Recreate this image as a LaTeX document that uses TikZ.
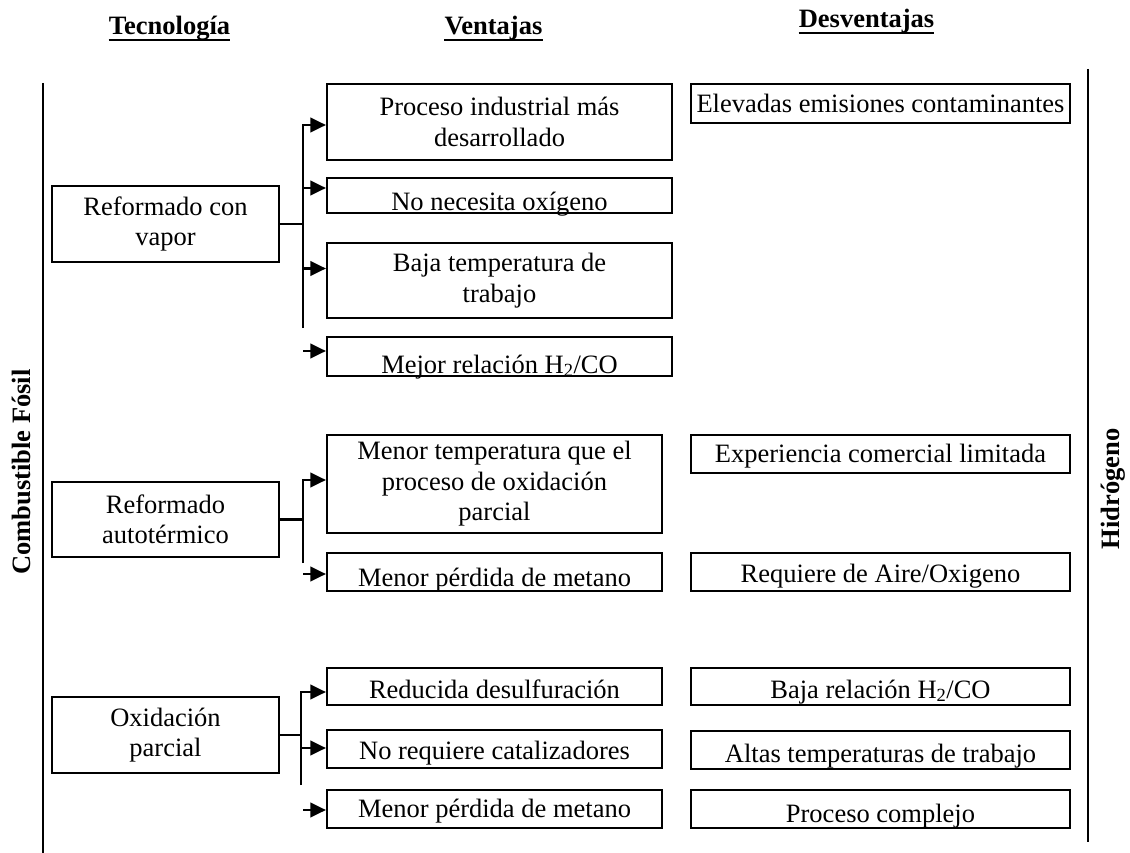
\documentclass[tikz,border=0pt]{standalone}
\usepackage{fontspec}
\setmainfont{Liberation Serif}
\usetikzlibrary{arrows.meta}

% shift a single line of text down inside its box
\newcommand{\lowered}[2]{\raisebox{-#1pt}{#2}}

\begin{document}
\begin{tikzpicture}[x=1pt,y=-1pt,
  txt/.style={font=\fontsize{26.5}{30.5}\selectfont},
  box/.style={txt, draw, line width=2.2pt, inner sep=0pt, align=center},
  one/.style={box, text height=19pt, text depth=6pt},
  tech/.style={box, minimum width=227pt},
  adv/.style={minimum width=345pt},
  adv2/.style={minimum width=335pt},
  dis/.style={one, minimum width=379pt},
  head/.style={font=\fontsize{26.5}{30.5}\selectfont\bfseries, inner sep=0pt, anchor=base},
  side/.style={font=\fontsize{26.5}{30.5}\selectfont\bfseries, inner sep=0pt, rotate=90},
  link/.style={line width=2.2pt},
  arr/.style={link, -{Triangle[length=15.5pt,width=14.5pt]}},
  rule/.style={line width=2.2pt},
  uline/.style={line width=2.6pt}
]
\fill[white] (0,0) rectangle (1130,853);
\useasboundingbox (0,0) rectangle (1130,853);

% column headings
\node[head] (h1) at (169.5,35) {Tecnología};
\node[head] (h2) at (493.5,35) {Ventajas};
\node[head] (h3) at (866.5,28) {Desventajas};
\foreach \h in {h1,h2,h3}
  \draw[uline] ([yshift=-5pt]\h.base west) -- ([yshift=-5pt]\h.base east);

% side rules and their labels
\draw[rule] (43,83) -- (43,853);
\draw[rule] (1088,69) -- (1088,842);
\node[side] (s1) at (21,472) {Combustible Fósil};
\node[side] (s2) at (1113,489) {Hidrógeno};

% technologies
\node[tech, minimum height=76pt] (t1) at (165.5,224) {Reformado con\\vapor};
\node[tech, minimum height=75pt] (t2) at (165.5,519.5) {Reformado\\autotérmico};
\node[tech, minimum height=76pt] (t3) at (165.5,735) {Oxidación\\parcial};

% advantages
\node[box, adv, minimum height=76pt] (v1) at (499.5,122) {Proceso industrial más\\desarrollado};
\node[one, adv, minimum height=35pt] (v2) at (499.5,195.5) {\lowered{9}{No necesita oxígeno}};
\node[box, adv, minimum height=75pt] (v3) at (499.5,280.5) {Baja temperatura de\\trabajo};
\node[one, adv, minimum height=39pt] (v4) at (499.5,356.5) {\lowered{10}{Mejor relación H\textsubscript{2}/CO}};
\node[box, adv2, minimum height=98pt] (v5) at (494.5,484) {Menor temperatura que el\\proceso de oxidación\\parcial};
\node[one, adv2, minimum height=38pt] (v6) at (494.5,572) {\lowered{7.5}{Menor pérdida de metano}};
\node[one, adv2, minimum height=37pt] (v7) at (494.5,686.5) {\lowered{5}{Reducida desulfuración}};
\node[one, adv2, minimum height=38pt] (v8) at (494.5,749) {\lowered{3.5}{No requiere catalizadores}};
\node[one, adv2, minimum height=38pt] (v9) at (494.5,809) {\lowered{1.5}{Menor pérdida de metano}};

% disadvantages
\node[dis, minimum height=39pt] (d1) at (880.5,103.5) {\lowered{3}{Elevadas emisiones contaminantes}};
\node[dis, minimum height=38pt] (d2) at (880.5,454) {\lowered{1.5}{Experiencia comercial limitada}};
\node[dis, minimum height=38pt] (d3) at (880.5,572) {\lowered{3.5}{Requiere de Aire/Oxigeno}};
\node[dis, minimum height=37pt] (d4) at (880.5,686.5) {\lowered{5}{Baja relación H\textsubscript{2}/CO}};
\node[dis, minimum height=38pt] (d5) at (880.5,750) {\lowered{5.5}{Altas temperaturas de trabajo}};
\node[dis, minimum height=38pt] (d6) at (880.5,809) {\lowered{6.5}{Proceso complejo}};

% branch of the steam reforming box
\coordinate (b1top) at (303,125);
\coordinate (b1bot) at (303,328);
\coordinate (a12) at (303,188);
\coordinate (a13) at (303,268.5);
\coordinate (a14) at (303,351);
\draw[link] (t1.east) -- (t1.east -| b1top);
\draw[arr] (b1bot) -- (b1top) -- (b1top -| v1.west);
\draw[arr] (a12) -- (a12 -| v2.west);
\draw[arr] (a13) -- (a13 -| v3.west);
\draw[arr] (a14) -- (a14 -| v4.west);

% branch of the autothermal reforming box
\coordinate (b2top) at (303,480);
\coordinate (b2bot) at (303,563);
\coordinate (a22) at (303,574);
\draw[link] (t2.east) -- (t2.east -| b2top);
\draw[arr] (b2bot) -- (b2top) -- (b2top -| v5.west);
\draw[arr] (a22) -- (a22 -| v6.west);

% branch of the partial oxidation box
\coordinate (b3top) at (301,692);
\coordinate (b3bot) at (301,785);
\coordinate (a32) at (301,748);
\coordinate (a33) at (303,810);
\draw[link] (t3.east) -- (t3.east -| b3top);
\draw[arr] (b3bot) -- (b3top) -- (b3top -| v7.west);
\draw[arr] (a32) -- (a32 -| v8.west);
\draw[arr] (a33) -- (a33 -| v9.west);
\end{tikzpicture}
\end{document}
